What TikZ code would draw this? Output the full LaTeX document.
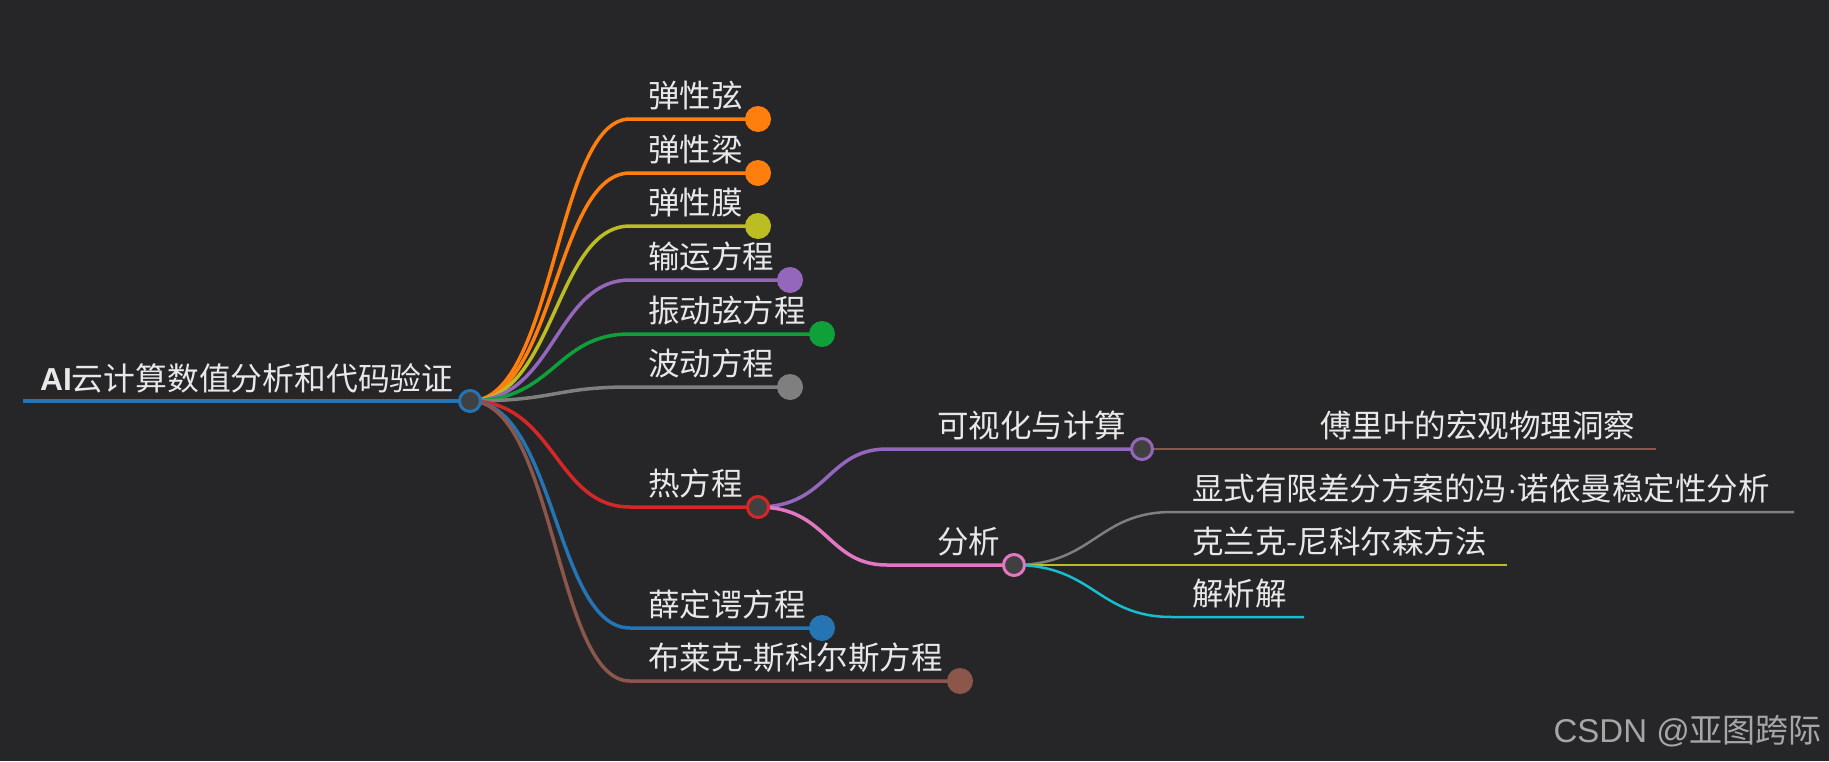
\documentclass[tikz,border=0pt]{standalone}
\usepackage{fontspec}
\setmainfont{Noto Sans CJK SC}
\newfontfamily\latinfont{Liberation Sans}
\definecolor{bgc}{HTML}{262628}
\definecolor{txt}{HTML}{E8E8E8}
\definecolor{hub}{HTML}{404040}
\definecolor{cblue}{HTML}{2574B4}
\definecolor{corange}{HTML}{FF7F0E}
\definecolor{colive}{HTML}{BCBD22}
\definecolor{cpurple}{HTML}{9467BD}
\definecolor{cgreen}{HTML}{0FA03A}
\definecolor{cgray}{HTML}{7F7F7F}
\definecolor{cred}{HTML}{D62728}
\definecolor{cbrown}{HTML}{8C564B}
\definecolor{cpink}{HTML}{E377C2}
\definecolor{ccyan}{HTML}{17BECF}
\definecolor{wm}{HTML}{A6A6A6}
\pgfdeclarelayer{back}
\pgfdeclarelayer{lines}
\pgfsetlayers{back,lines,main}
\tikzset{
  lbl/.style={text=txt, font=\fontsize{31.5}{31.5}\selectfont, anchor=base west, inner sep=0pt},
  leafdot/.style={circle, minimum size=26pt, inner sep=0pt},
  hubdot/.style={circle, minimum size=21pt, inner sep=0pt, fill=hub, line width=3pt},
  link/.style={line width=3.5pt},
  thinlink/.style={line width=2.5pt},
}
\begin{document}
\begin{tikzpicture}[x=1pt,y=-1pt]
\useasboundingbox (0,0) rectangle (1829,761);
\begin{pgfonlayer}{back}
\fill[bgc] (0,0) rectangle (1829,761);
\end{pgfonlayer}

% root
\coordinate (r0) at (23,401);
\node[hubdot, draw=cblue] (root) at (470,401) {};
\node[lbl, font=\fontsize{31.8}{31.8}\selectfont] (rootlbl) at (40,390) {{\latinfont\bfseries AI}云计算数值分析和代码验证};

% level-1 line starts
\coordinate (s1) at (630,119);
\coordinate (s2) at (630,173);
\coordinate (s3) at (630,226);
\coordinate (s4) at (630,280);
\coordinate (s5) at (630,334);
\coordinate (s6) at (630,387);
\coordinate (s7) at (630,507);
\coordinate (s8) at (630,628);
\coordinate (s9) at (630,681);

\node[leafdot, fill=corange] (d1) at (758,119) {};
\node[leafdot, fill=corange] (d2) at (758,173) {};
\node[leafdot, fill=colive]  (d3) at (758,226) {};
\node[leafdot, fill=cpurple] (d4) at (790,280) {};
\node[leafdot, fill=cgreen]  (d5) at (822,334) {};
\node[leafdot, fill=cgray]   (d6) at (790,387) {};
\node[hubdot, draw=cred]     (heat) at (758,507) {};
\node[leafdot, fill=cblue]   (d8) at (822,628) {};
\node[leafdot, fill=cbrown]  (d9) at (960,681) {};

\node[lbl] (t1) at (648,107) {弹性弦};
\node[lbl] (t2) at (648,161) {弹性梁};
\node[lbl] (t3) at (648,214) {弹性膜};
\node[lbl] (t4) at (648,268) {输运方程};
\node[lbl] (t5) at (648,322) {振动弦方程};
\node[lbl] (t6) at (648,375) {波动方程};
\node[lbl] (t7) at (648,495) {热方程};
\node[lbl] (t8) at (648,616) {薛定谔方程};
\node[lbl] (t9) at (648,669) {布莱克-斯科尔斯方程};

% level-2
\coordinate (u1) at (887,449);
\coordinate (u2) at (887,565);
\node[hubdot, draw=cpurple] (vis) at (1142,449) {};
\node[hubdot, draw=cpink]   (ana) at (1014,565) {};
\node[lbl] (tv) at (937,437) {可视化与计算};
\node[lbl] (ta) at (937,553) {分析};

% level-3
\coordinate (e1) at (1656,449);
\coordinate (w2) at (1172,512);
\coordinate (e2) at (1794,512);
\coordinate (w3) at (1172,565);
\coordinate (e3) at (1507,565);
\coordinate (w4) at (1172,617);
\coordinate (e4) at (1304,617);
\node[lbl] (tf) at (1320,437) {傅里叶的宏观物理洞察};
\node[lbl] (tx) at (1192,500) {显式有限差分方案的冯{\latinfont ·}诺依曼稳定性分析};
\node[lbl] (tk) at (1192,553) {克兰克-尼科尔森方法};
\node[lbl] (tj) at (1192,605) {解析解};

\node[text=wm, font=\fontsize{33}{33}\selectfont, anchor=base east, inner sep=0pt] (wmark) at (1822,742) {{\latinfont CSDN @}亚图跨际};

\begin{pgfonlayer}{lines}
\draw[cblue, line width=4.5pt] (r0) -- (root.center);
\foreach \s/\d/\c in {s1/d1/corange, s2/d2/corange, s3/d3/colive, s4/d4/cpurple, s5/d5/cgreen, s6/d6/cgray, s7/heat/cred, s8/d8/cblue, s9/d9/cbrown}{
  \draw[link, \c] (root.center) .. controls +(85,0) and +(-75,0) .. (\s) -- (\d.center);
}
\draw[link, cpurple] (heat.center) .. controls +(70,0) and +(-60,0) .. (u1) -- (vis.center);
\draw[link, cpink]   (heat.center) .. controls +(70,0) and +(-60,0) .. (u2) -- (ana.center);
\draw[thinlink, cbrown] (vis.center) -- (e1);
\draw[thinlink, cgray]  (ana.center) .. controls +(80,0) and +(-75,0) .. (w2) -- (e2);
\draw[thinlink, colive] (ana.center) .. controls +(80,0) and +(-75,0) .. (w3) -- (e3);
\draw[thinlink, ccyan]  (ana.center) .. controls +(80,0) and +(-75,0) .. (w4) -- (e4);
\end{pgfonlayer}
\end{tikzpicture}
\end{document}
